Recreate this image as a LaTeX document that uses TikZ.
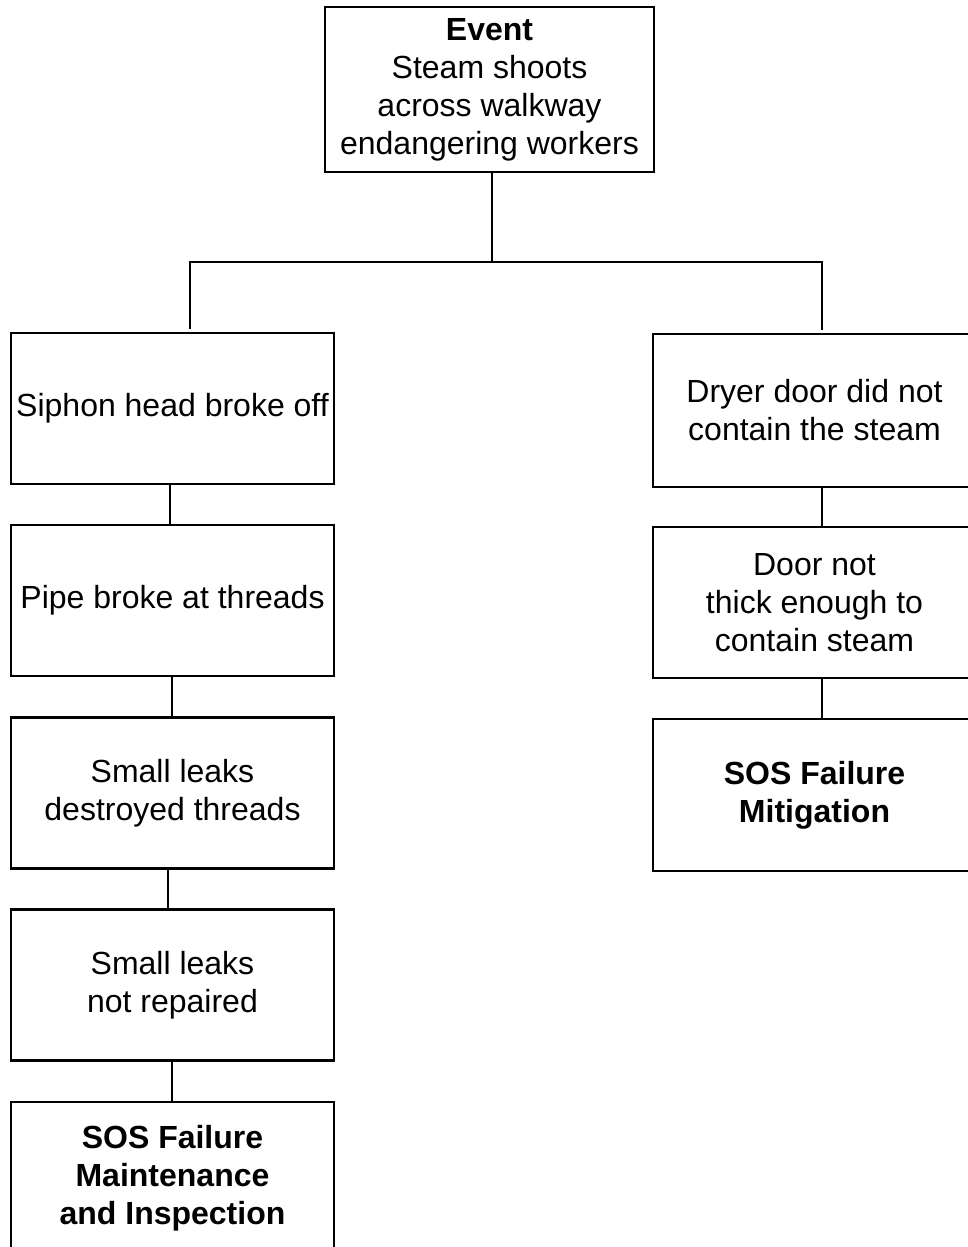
\documentclass[tikz,border=0pt]{standalone}
\usepackage{fontspec}
\setmainfont{Liberation Sans}
\begin{document}
\begin{tikzpicture}[x=1pt,y=-1pt,
  box/.style={draw, line width=2.8pt, minimum width=323pt, minimum height=151pt,
    inner sep=0pt, align=center, font=\fontsize{32}{38}\selectfont},
  boldbox/.style={box, font=\fontsize{32}{38}\selectfont\bfseries},
  link/.style={line width=2.5pt}]
\useasboundingbox (0,0) rectangle (968,1247);
\clip (0,0) rectangle (968,1247);
\fill[white] (0,0) rectangle (968,1247);

\node[box, minimum width=329pt, minimum height=165pt] (ev) at (489.5,89.5)
  {\textbf{Event}\\Steam shoots\\across walkway\\endangering workers};

\node[box] (L1) at (172.5,408.5) {Siphon head broke off};
\node[box] (L2) at (172.5,600.5) {Pipe broke at threads};
\node[box] (L3) at (172.5,793) {Small leaks\\destroyed threads};
\node[box] (L4) at (172.5,985) {Small leaks\\not repaired};
\node[boldbox, minimum height=152pt] (L5) at (172.5,1178) {SOS Failure\\Maintenance\\and Inspection};

\node[box, minimum height=153pt] (R1) at (814.5,410.5) {Dryer door did not\\contain the steam};
\node[box] (R2) at (814.5,602.5) {Door not\\thick enough to\\contain steam};
\node[boldbox, minimum height=152pt] (R3) at (814.5,795) {SOS Failure\\Mitigation};

\coordinate (j) at (492,262);
\coordinate (jl) at (190,262);
\coordinate (jr) at (822,262);

\draw[link] ([xshift=2.5pt]ev.south) -- (j);
\draw[link, line cap=rect] (jl) -- (jr);
\draw[link, shorten >=3pt] (jl) -- (jl |- L1.north);
\draw[link, shorten >=3pt] (jr) -- (jr |- R1.north);

\draw[link] ([xshift=-2.5pt]L1.south) -- ([xshift=-2.5pt]L2.north);
\draw[link] ([xshift=-0.5pt]L2.south) -- ([xshift=-0.5pt]L3.north);
\draw[link] ([xshift=-4.5pt]L3.south) -- ([xshift=-4.5pt]L4.north);
\draw[link] ([xshift=-0.5pt]L4.south) -- ([xshift=-0.5pt]L5.north);

\draw[link] ([xshift=7.5pt]R1.south) -- ([xshift=7.5pt]R2.north);
\draw[link] ([xshift=7.5pt]R2.south) -- ([xshift=7.5pt]R3.north);
\end{tikzpicture}
\end{document}
